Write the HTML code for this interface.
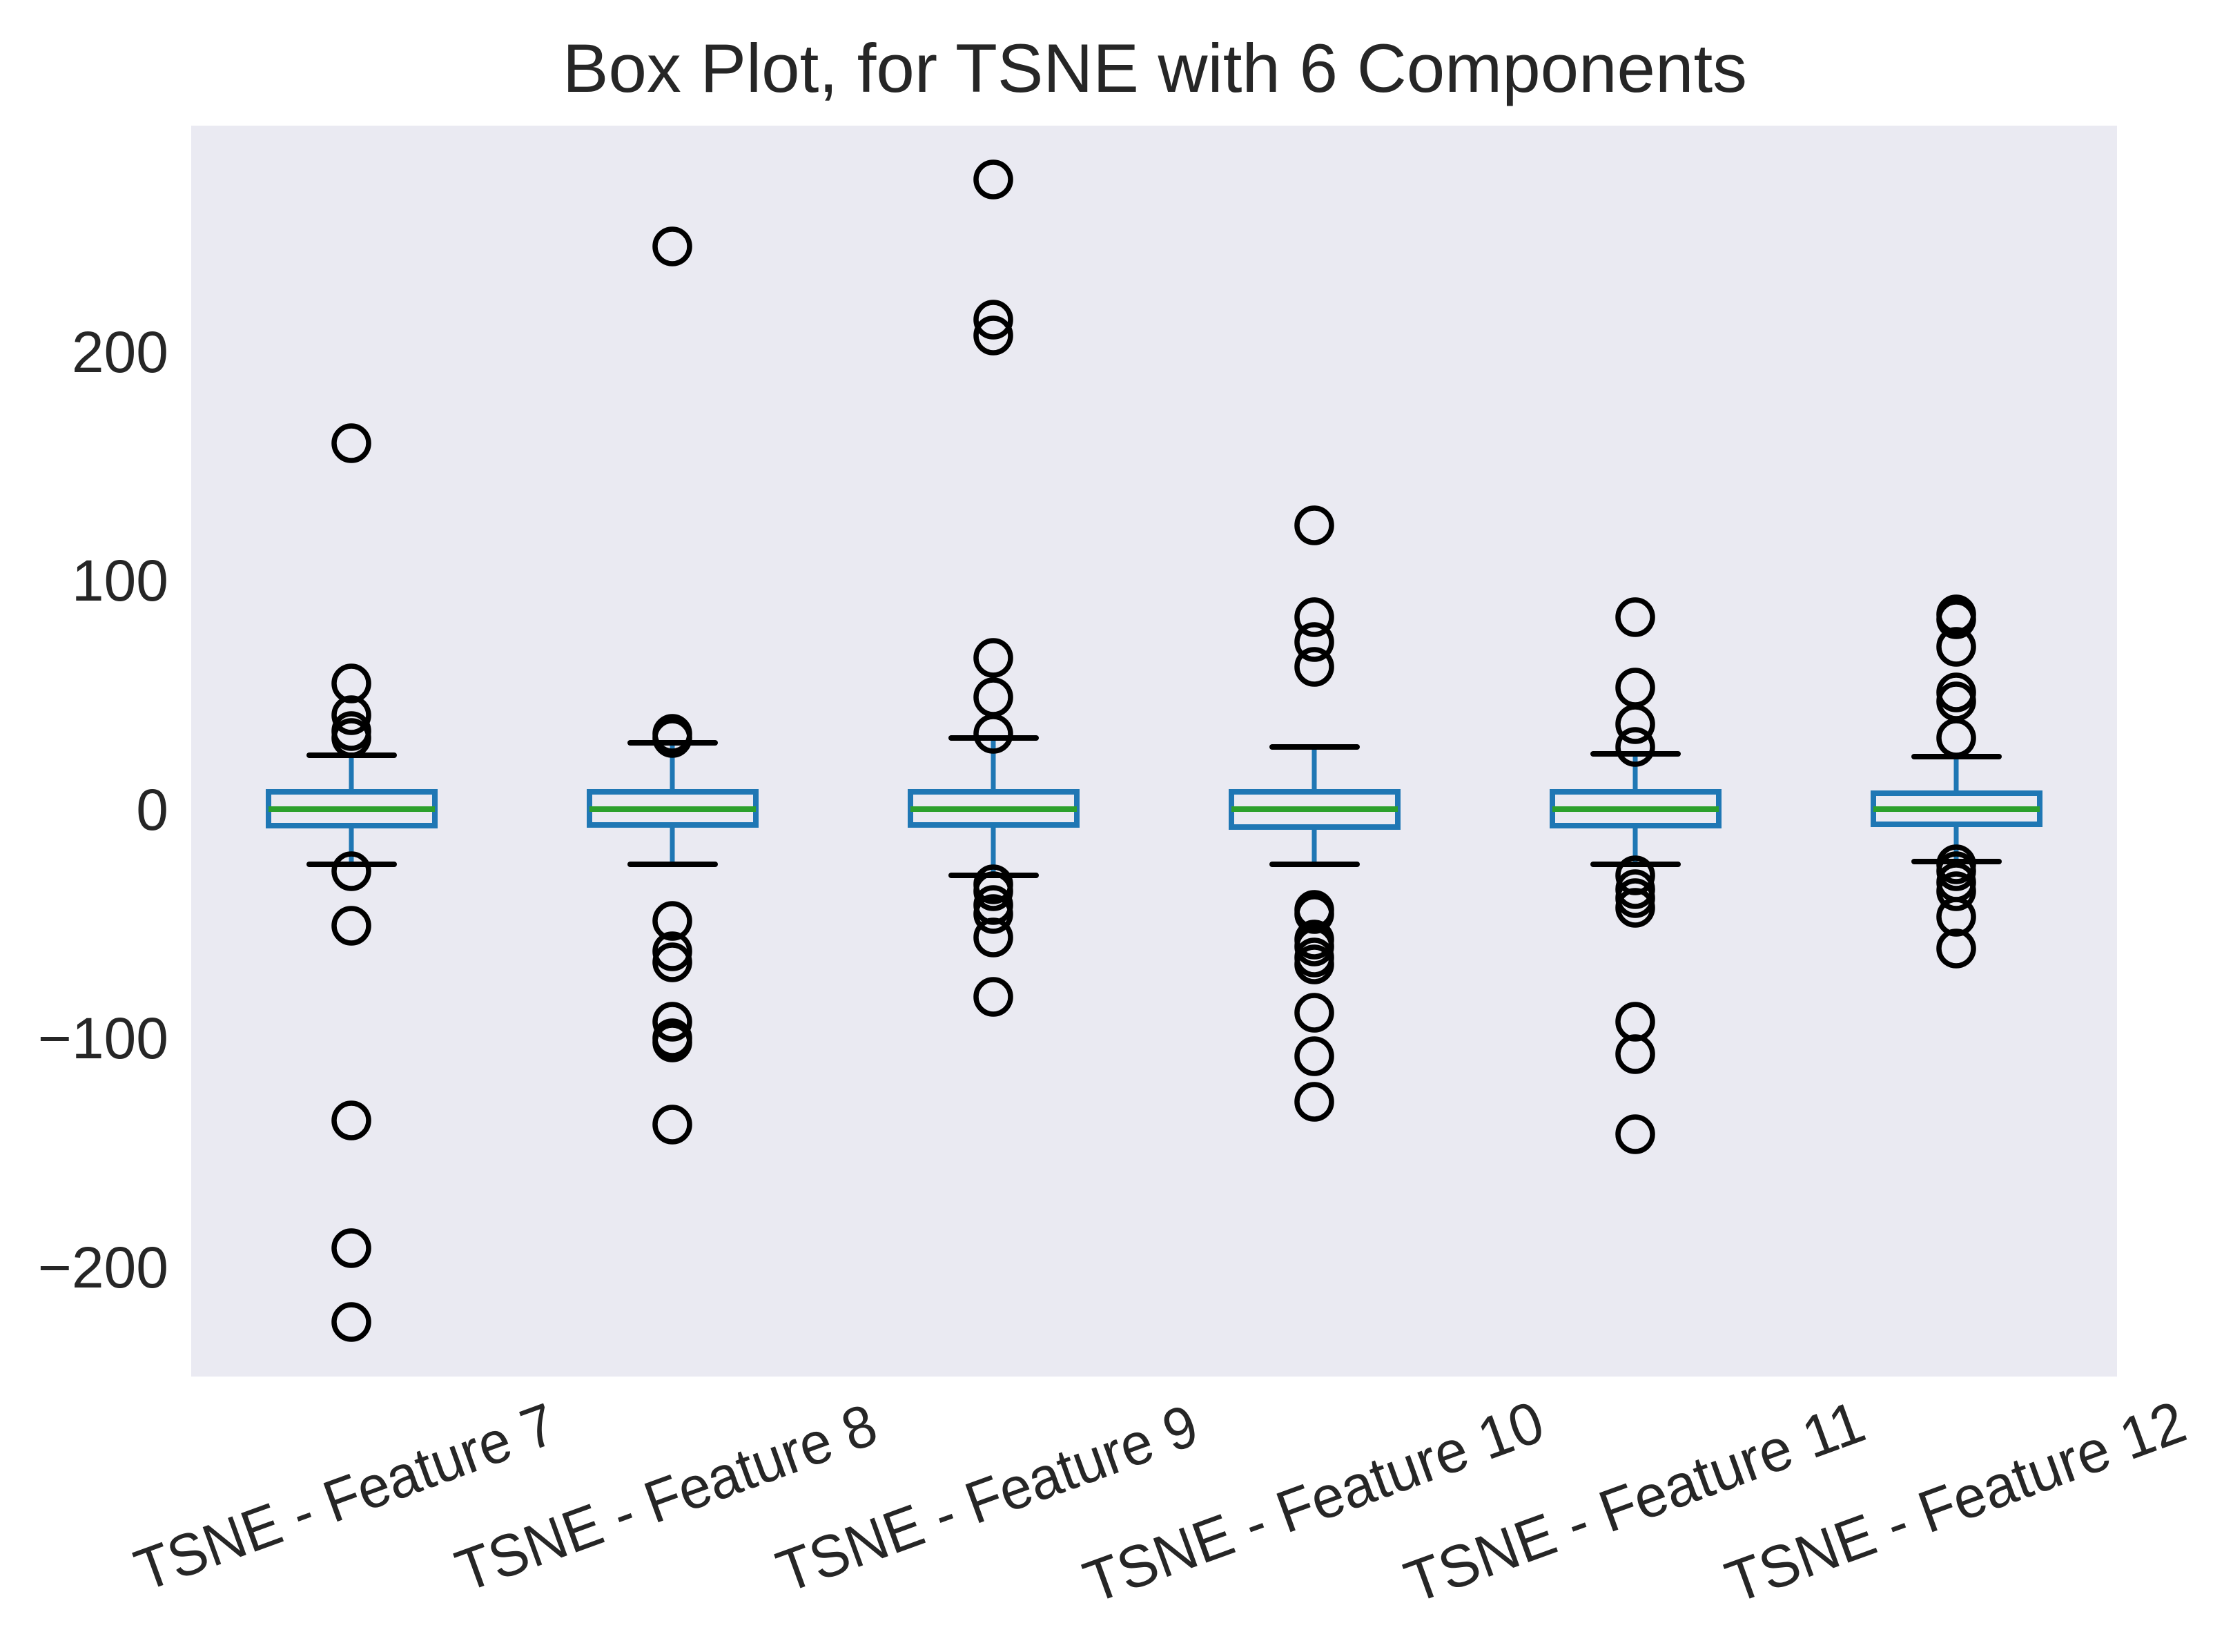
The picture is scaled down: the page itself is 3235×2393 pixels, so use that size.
<!DOCTYPE html>
<html><head><meta charset="utf-8"><style>
html,body{margin:0;padding:0;background:#fff;}
svg{display:block;}
text{font-family:"Liberation Sans",Arial,sans-serif;fill:#262626;}
</style></head><body>
<svg width="3235" height="2393" viewBox="0 0 3235 2393" xmlns="http://www.w3.org/2000/svg">
<rect x="0" y="0" width="3235" height="2393" fill="#fff"/>
<rect x="277" y="182" width="2790" height="1812" fill="#eaeaf2"/>
<text x="815" y="133" font-size="99" textLength="1716" lengthAdjust="spacingAndGlyphs">Box Plot, for TSNE with 6 Components</text>
<g font-size="84" text-anchor="end">
<text x="244" y="539">200</text>
<text x="244" y="870">100</text>
<text x="244" y="1202">0</text>
<text x="244" y="1533">−100</text>
<text x="244" y="1865">−200</text>
</g>
<g font-size="86" text-anchor="middle">
<text transform="translate(500,2168) rotate(-20)" dy="0.35em" textLength="640" lengthAdjust="spacingAndGlyphs">TSNE - Feature 7</text>
<text transform="translate(965,2169) rotate(-20)" dy="0.35em" textLength="640" lengthAdjust="spacingAndGlyphs">TSNE - Feature 8</text>
<text transform="translate(1430,2170) rotate(-20)" dy="0.35em" textLength="640" lengthAdjust="spacingAndGlyphs">TSNE - Feature 9</text>
<text transform="translate(1903,2175) rotate(-20)" dy="0.35em" textLength="700" lengthAdjust="spacingAndGlyphs">TSNE - Feature 10</text>
<text transform="translate(2368,2175) rotate(-20)" dy="0.35em" textLength="700" lengthAdjust="spacingAndGlyphs">TSNE - Feature 11</text>
<text transform="translate(2833,2175) rotate(-20)" dy="0.35em" textLength="700" lengthAdjust="spacingAndGlyphs">TSNE - Feature 12</text>
</g>

<!-- Feature 7 -->
<g>
<line x1="509" y1="1147" x2="509" y2="1094" stroke="#1f77b4" stroke-width="7"/>
<line x1="509" y1="1196" x2="509" y2="1252" stroke="#1f77b4" stroke-width="7"/>
<rect x="389" y="1147" width="241" height="49" fill="none" stroke="#1f77b4" stroke-width="8"/>
<line x1="389" y1="1172" x2="630" y2="1172" stroke="#2ca02c" stroke-width="8"/>
<line x1="448" y1="1094" x2="571" y2="1094" stroke="#000" stroke-width="8" stroke-linecap="round"/>
<line x1="448" y1="1252" x2="571" y2="1252" stroke="#000" stroke-width="8" stroke-linecap="round"/>
<g fill="none" stroke="#000" stroke-width="7.5">
<circle cx="509" cy="642" r="25"/><circle cx="509" cy="990" r="25"/><circle cx="509" cy="1036" r="25"/><circle cx="509" cy="1059" r="25"/><circle cx="509" cy="1069" r="25"/><circle cx="509" cy="1262" r="25"/><circle cx="509" cy="1341" r="25"/><circle cx="509" cy="1623" r="25"/><circle cx="509" cy="1808" r="25"/><circle cx="509" cy="1915" r="25"/>
</g></g>

<!-- Feature 8 -->
<g>
<line x1="974" y1="1147" x2="974" y2="1076" stroke="#1f77b4" stroke-width="7"/>
<line x1="974" y1="1195" x2="974" y2="1252" stroke="#1f77b4" stroke-width="7"/>
<rect x="854" y="1147" width="241" height="48" fill="none" stroke="#1f77b4" stroke-width="8"/>
<line x1="854" y1="1172" x2="1095" y2="1172" stroke="#2ca02c" stroke-width="8"/>
<line x1="913" y1="1076" x2="1036" y2="1076" stroke="#000" stroke-width="8" stroke-linecap="round"/>
<line x1="913" y1="1252" x2="1036" y2="1252" stroke="#000" stroke-width="8" stroke-linecap="round"/>
<g fill="none" stroke="#000" stroke-width="7.5">
<circle cx="974" cy="357" r="25"/><circle cx="974" cy="1063" r="25"/><circle cx="974" cy="1069" r="25"/><circle cx="974" cy="1334" r="25"/><circle cx="974" cy="1378" r="25"/><circle cx="974" cy="1394" r="25"/><circle cx="974" cy="1480" r="25"/><circle cx="974" cy="1504" r="25"/><circle cx="974" cy="1510" r="25"/><circle cx="974" cy="1629" r="25"/>
</g></g>

<!-- Feature 9 -->
<g>
<line x1="1439" y1="1147" x2="1439" y2="1069" stroke="#1f77b4" stroke-width="7"/>
<line x1="1439" y1="1195" x2="1439" y2="1268" stroke="#1f77b4" stroke-width="7"/>
<rect x="1319" y="1147" width="241" height="48" fill="none" stroke="#1f77b4" stroke-width="8"/>
<line x1="1319" y1="1172" x2="1560" y2="1172" stroke="#2ca02c" stroke-width="8"/>
<line x1="1378" y1="1069" x2="1501" y2="1069" stroke="#000" stroke-width="8" stroke-linecap="round"/>
<line x1="1378" y1="1268" x2="1501" y2="1268" stroke="#000" stroke-width="8" stroke-linecap="round"/>
<g fill="none" stroke="#000" stroke-width="7.5">
<circle cx="1439" cy="260" r="25"/><circle cx="1439" cy="463" r="25"/><circle cx="1439" cy="486" r="25"/><circle cx="1439" cy="953" r="25"/><circle cx="1439" cy="1010" r="25"/><circle cx="1439" cy="1063" r="25"/><circle cx="1439" cy="1281" r="25"/><circle cx="1439" cy="1291" r="25"/><circle cx="1439" cy="1311" r="25"/><circle cx="1439" cy="1324" r="25"/><circle cx="1439" cy="1358" r="25"/><circle cx="1439" cy="1444" r="25"/>
</g></g>

<!-- Feature 10 -->
<g>
<line x1="1904" y1="1147" x2="1904" y2="1082" stroke="#1f77b4" stroke-width="7"/>
<line x1="1904" y1="1198" x2="1904" y2="1252" stroke="#1f77b4" stroke-width="7"/>
<rect x="1784" y="1147" width="241" height="51" fill="none" stroke="#1f77b4" stroke-width="8"/>
<line x1="1784" y1="1172" x2="2025" y2="1172" stroke="#2ca02c" stroke-width="8"/>
<line x1="1843" y1="1082" x2="1966" y2="1082" stroke="#000" stroke-width="8" stroke-linecap="round"/>
<line x1="1843" y1="1252" x2="1966" y2="1252" stroke="#000" stroke-width="8" stroke-linecap="round"/>
<g fill="none" stroke="#000" stroke-width="7.5">
<circle cx="1904" cy="761" r="25"/><circle cx="1904" cy="894" r="25"/><circle cx="1904" cy="930" r="25"/><circle cx="1904" cy="966" r="25"/><circle cx="1904" cy="1318" r="25"/><circle cx="1904" cy="1324" r="25"/><circle cx="1904" cy="1361" r="25"/><circle cx="1904" cy="1371" r="25"/><circle cx="1904" cy="1387" r="25"/><circle cx="1904" cy="1397" r="25"/><circle cx="1904" cy="1467" r="25"/><circle cx="1904" cy="1530" r="25"/><circle cx="1904" cy="1596" r="25"/>
</g></g>

<!-- Feature 11 -->
<g>
<line x1="2369" y1="1147" x2="2369" y2="1092" stroke="#1f77b4" stroke-width="7"/>
<line x1="2369" y1="1196" x2="2369" y2="1252" stroke="#1f77b4" stroke-width="7"/>
<rect x="2249" y="1147" width="241" height="49" fill="none" stroke="#1f77b4" stroke-width="8"/>
<line x1="2249" y1="1172" x2="2490" y2="1172" stroke="#2ca02c" stroke-width="8"/>
<line x1="2308" y1="1092" x2="2431" y2="1092" stroke="#000" stroke-width="8" stroke-linecap="round"/>
<line x1="2308" y1="1252" x2="2431" y2="1252" stroke="#000" stroke-width="8" stroke-linecap="round"/>
<g fill="none" stroke="#000" stroke-width="7.5">
<circle cx="2369" cy="894" r="25"/><circle cx="2369" cy="996" r="25"/><circle cx="2369" cy="1049" r="25"/><circle cx="2369" cy="1082" r="25"/><circle cx="2369" cy="1268" r="25"/><circle cx="2369" cy="1288" r="25"/><circle cx="2369" cy="1301" r="25"/><circle cx="2369" cy="1315" r="25"/><circle cx="2369" cy="1480" r="25"/><circle cx="2369" cy="1527" r="25"/><circle cx="2369" cy="1643" r="25"/>
</g></g>

<!-- Feature 12 -->
<g>
<line x1="2834" y1="1149" x2="2834" y2="1096" stroke="#1f77b4" stroke-width="7"/>
<line x1="2834" y1="1194" x2="2834" y2="1248" stroke="#1f77b4" stroke-width="7"/>
<rect x="2714" y="1149" width="241" height="45" fill="none" stroke="#1f77b4" stroke-width="8"/>
<line x1="2714" y1="1172" x2="2955" y2="1172" stroke="#2ca02c" stroke-width="8"/>
<line x1="2773" y1="1096" x2="2896" y2="1096" stroke="#000" stroke-width="8" stroke-linecap="round"/>
<line x1="2773" y1="1248" x2="2896" y2="1248" stroke="#000" stroke-width="8" stroke-linecap="round"/>
<g fill="none" stroke="#000" stroke-width="7.5">
<circle cx="2834" cy="890" r="25"/><circle cx="2834" cy="897" r="25"/><circle cx="2834" cy="937" r="25"/><circle cx="2834" cy="1003" r="25"/><circle cx="2834" cy="1016" r="25"/><circle cx="2834" cy="1069" r="25"/><circle cx="2834" cy="1252" r="25"/><circle cx="2834" cy="1262" r="25"/><circle cx="2834" cy="1278" r="25"/><circle cx="2834" cy="1291" r="25"/><circle cx="2834" cy="1328" r="25"/><circle cx="2834" cy="1374" r="25"/>
</g></g>
</svg>
</body></html>
